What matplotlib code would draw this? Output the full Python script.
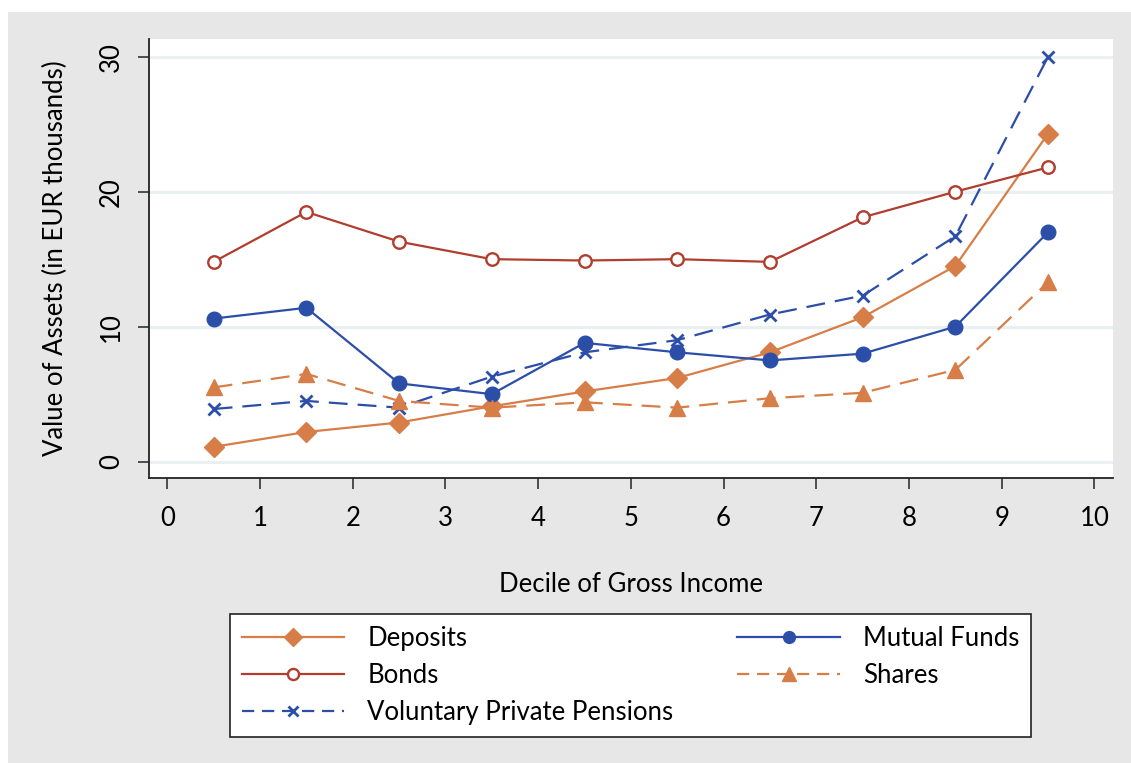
import matplotlib
matplotlib.use("Agg")
import matplotlib.pyplot as plt
from matplotlib.patches import Rectangle
from matplotlib.lines import Line2D

plt.rcParams['font.family'] = ['Lato', 'DejaVu Sans']

deciles = [0.5, 1.5, 2.5, 3.5, 4.5, 5.5, 6.5, 7.5, 8.5, 9.5]
deposits = [1.1, 2.2, 2.9, 4.1, 5.2, 6.2, 8.1, 10.7, 14.5, 24.3]
bonds = [14.8, 18.5, 16.3, 15.0, 14.9, 15.0, 14.8, 18.1, 20.0, 21.8]
mutual_funds = [10.6, 11.4, 5.8, 5.0, 8.8, 8.1, 7.5, 8.0, 10.0, 17.0]
shares = [5.5, 6.5, 4.5, 4.0, 4.4, 4.0, 4.7, 5.1, 6.8, 13.3]
pensions = [3.9, 4.5, 4.0, 6.3, 8.1, 9.0, 10.9, 12.3, 16.7, 30.0]

xticks = list(range(0, 11))
yticks = [0, 10, 20, 30]

ORANGE = '#d77e48'
RED = '#b13d2f'
BLUE = '#2b4ea8'
GREY = '#e7e7e7'
GRID = '#e8f0f2'
FS = 18.5

fig = plt.figure(figsize=(11.31, 7.63), dpi=100, facecolor='white')
fig.patches.append(Rectangle((8 / 1131, 0), 1, 1 - 12 / 763, transform=fig.transFigure,
                             facecolor=GREY, edgecolor='none', zorder=-10))

ax = fig.add_axes([149 / 1131, 1 - 478 / 763, (1113 - 149) / 1131, (478 - 39) / 763])
ax.set_facecolor('white')

lw = 1.6
dash = (8.5, 4.5)
ax.plot(deciles, deposits, color=ORANGE, lw=lw, marker='D', ms=10.5,
        mfc=ORANGE, mec=ORANGE, zorder=3)
ax.plot(deciles, bonds, color=RED, lw=lw, marker='o', ms=9, mfc='white',
        mec=RED, mew=1.7, zorder=3)
ax.plot(deciles, pensions, color=BLUE, lw=lw, marker='x', ms=8.5, mew=2,
        dashes=dash, zorder=3)
ax.plot(deciles, mutual_funds, color=BLUE, lw=lw, marker='o', ms=10.5,
        mfc=BLUE, mec=BLUE, zorder=3)
ax.plot(deciles, shares, color=ORANGE, lw=lw, marker='^', ms=12,
        mfc=ORANGE, mec=ORANGE, dashes=dash, zorder=3)

ax.set_xlim(-0.197, 10.2)
ax.set_ylim(-1.21, 31.31)
ax.set_xticks(xticks)
ax.set_yticks(yticks)
ax.set_yticklabels([str(v) for v in yticks], rotation=90, va='center')
ax.tick_params(axis='both', labelsize=FS, length=8, width=1.2, color='#333333')
ax.tick_params(axis='x', pad=12)
ax.tick_params(axis='y', pad=10)
for y in yticks:
    ax.axhline(y, color=GRID, lw=2.2, zorder=1)

for s in ['top', 'right']:
    ax.spines[s].set_visible(False)
for s in ['left', 'bottom']:
    ax.spines[s].set_color('#222222')
    ax.spines[s].set_linewidth(1.3)

ax.set_xlabel('Decile of Gross Income', fontsize=FS, labelpad=30)
ax.set_ylabel('Value of Assets (in EUR thousands)', fontsize=FS, labelpad=22)

ldash = (5.5, 3.5)
handles = [
    Line2D([], [], color=ORANGE, lw=lw, marker='D', ms=9, mfc=ORANGE, mec=ORANGE),
    Line2D([], [], color=RED, lw=lw, marker='o', ms=8, mfc='white', mec=RED, mew=1.7),
    Line2D([], [], color=BLUE, lw=lw, marker='x', ms=7, mew=2, dashes=ldash),
    Line2D([], [], color=BLUE, lw=lw, marker='o', ms=8.5, mfc=BLUE, mec=BLUE),
    Line2D([], [], color=ORANGE, lw=lw, marker='^', ms=10.5, mfc=ORANGE, mec=ORANGE, dashes=ldash),
]
labels = ['Deposits', 'Bonds', 'Voluntary Private Pensions', 'Mutual Funds', 'Shares']
leg = fig.legend(handles=handles, labels=labels,
                 ncol=2, loc='lower left',
                 bbox_to_anchor=(230 / 1131, 1 - 737 / 763, (1031 - 230) / 1131, (737 - 613) / 763),
                 mode='expand', fontsize=FS, frameon=True, fancybox=False,
                 edgecolor='#222222', framealpha=1, handlelength=4.0, handletextpad=0.9,
                 labelspacing=0.48, borderpad=0.45, borderaxespad=0)
leg.get_frame().set_linewidth(1.2)

fig.savefig('out.png', dpi=100, facecolor=fig.get_facecolor())
